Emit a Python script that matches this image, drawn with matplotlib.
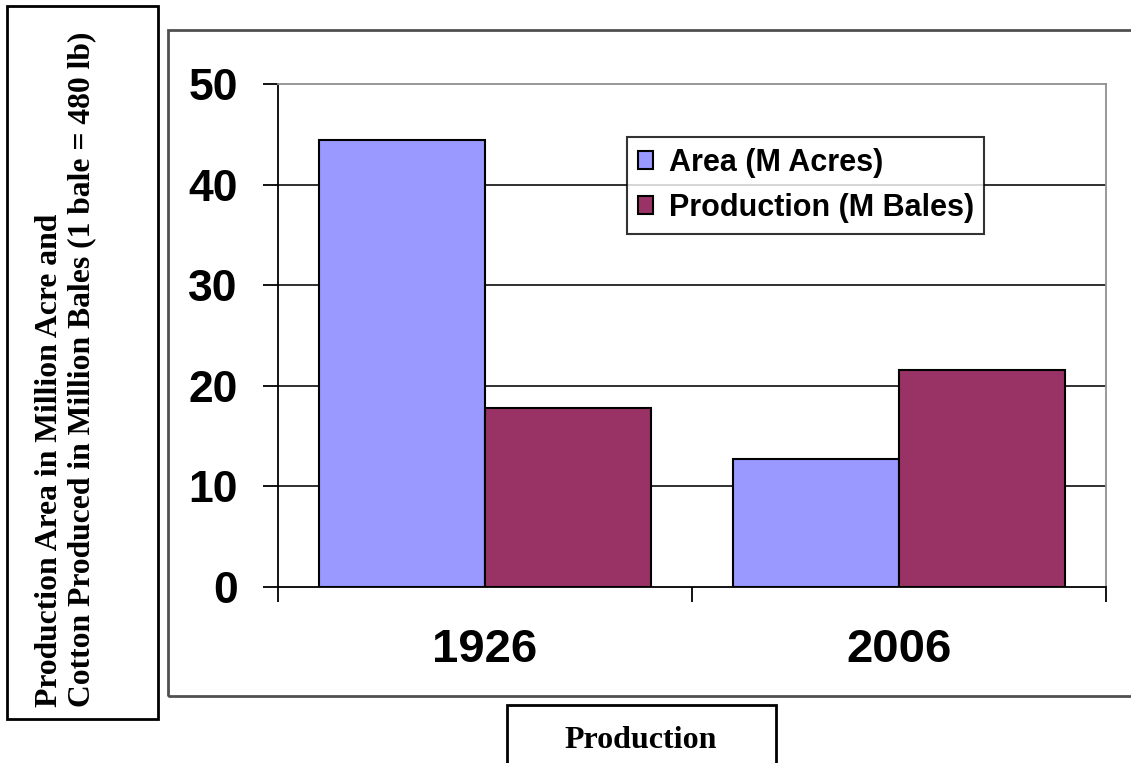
import numpy as np
import matplotlib
matplotlib.use("Agg")
import matplotlib.pyplot as plt
from matplotlib.patches import Rectangle

# Data
years = ["1926", "2006"]
area_m_acres = [44.5, 12.7]
production_m_bales = [17.8, 21.6]
series_names = ["Area (M Acres)", "Production (M Bales)"]
yticks = [0, 10, 20, 30, 40, 50]

W, H = 1131, 763
fig = plt.figure(figsize=(W / 100, H / 100), dpi=100)
fig.patch.set_facecolor("white")

def fx(px):
    return px / W

def fy(py):
    return 1 - py / H

# Outer chart frame (runs off the right edge)
fig.patches.append(Rectangle((fx(168), fy(696)), 1.05 - fx(168), fy(30) - fy(696),
                             transform=fig.transFigure, fill=False,
                             edgecolor="#505050", linewidth=2, zorder=0))

# Plot area
ax = fig.add_axes([fx(278), fy(586.7), fx(1106) - fx(278), fy(84.3) - fy(586.7)])
x = np.arange(len(years))
bw = 0.4
ax.bar(x - bw / 2, area_m_acres, bw, color="#9999FF", edgecolor="black",
       linewidth=1.5, label=series_names[0], zorder=3)
ax.bar(x + bw / 2, production_m_bales, bw, color="#993366", edgecolor="black",
       linewidth=1.5, label=series_names[1], zorder=3)

ax.set_xlim(-0.5, len(years) - 0.5)
ax.set_ylim(0, 50)
ax.set_yticks(yticks)
ax.set_yticklabels([str(t) for t in yticks], fontfamily="Liberation Sans",
                   fontweight="bold", fontsize=32)
ax.tick_params(axis="y", direction="out", length=11, width=1.3, pad=18, color="black")

ax.set_xticks(x)
ax.set_xticklabels(years, fontfamily="Liberation Sans", fontweight="bold", fontsize=34)
ax.set_xticks(np.arange(-0.5, len(years)), minor=True)
ax.tick_params(axis="x", which="major", length=0, pad=30)
ax.tick_params(axis="x", which="minor", direction="out", length=11, width=1.3, color="black")

for t in yticks[1:-1]:
    ax.axhline(t, color="#202020", linewidth=1.3, zorder=1)

ax.spines["left"].set_color("black")
ax.spines["bottom"].set_color("black")
ax.spines["left"].set_linewidth(1.3)
ax.spines["bottom"].set_linewidth(1.3)
ax.spines["top"].set_color("#909090")
ax.spines["right"].set_color("#909090")
ax.spines["top"].set_linewidth(1.3)
ax.spines["right"].set_linewidth(1.3)
for s in ax.spines.values():
    s.set_zorder(4)

leg = ax.legend(loc="upper left", bbox_to_anchor=(0.422, 0.895),
                prop={"family": "Liberation Sans", "weight": "bold", "size": 22},
                frameon=True, fancybox=False, edgecolor="black",
                handlelength=0.5, handleheight=0.5, handletextpad=0.5,
                labelspacing=0.5, borderpad=0.35, borderaxespad=0)
leg.get_frame().set_linewidth(1.5)
leg.set_zorder(5)

# Left axis-title box
fig.patches.append(Rectangle((fx(7), fy(719)), fx(158) - fx(7), fy(6) - fy(719),
                             transform=fig.transFigure, fill=False,
                             edgecolor="black", linewidth=2))
fig.text(fx(66), fy(707),
         "Production Area in Million Acre and\nCotton Produced in Million Bales (1 bale = 480 lb)",
         rotation=90, ha="center", va="bottom", multialignment="left",
         fontfamily="Liberation Serif", fontweight="bold", fontsize=22.8,
         linespacing=1.15)

# Bottom axis-title box
fig.patches.append(Rectangle((fx(507), fy(780)), fx(776) - fx(507), fy(705) - fy(780),
                             transform=fig.transFigure, fill=False,
                             edgecolor="black", linewidth=2))
fig.text(fx(641), fy(741), "Production", ha="center", va="center",
         fontfamily="Liberation Serif", fontweight="bold", fontsize=23)

fig.savefig("out.png", dpi=100)
